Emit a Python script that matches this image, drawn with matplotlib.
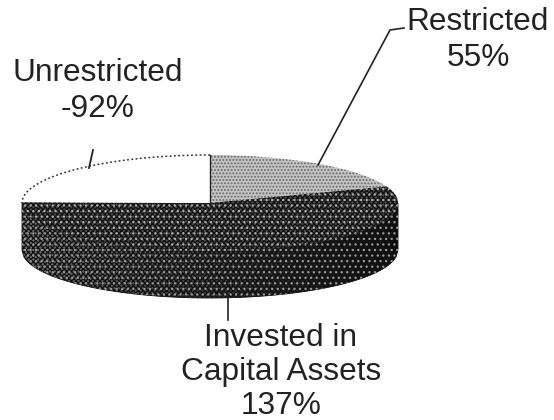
import numpy as np
import matplotlib
matplotlib.use('Agg')
import matplotlib.pyplot as plt
from matplotlib.patches import Polygon

plt.rcParams['font.family'] = ['Liberation Sans', 'DejaVu Sans']
plt.rcParams['hatch.linewidth'] = 0.9

# Data
labels = ['Restricted\n55%', 'Invested in\nCapital Assets\n137%', 'Unrestricted\n-92%']
# slice sizes as drawn in the picture (degrees of the ellipse)
slice_degrees = [70, 201, 89]

W, H = 554, 420
cx, cy, rx, ry, depth = 210, 203, 188, 48, 47


def fx(x):
    return x / W


def fy(y):
    return 1 - y / H


fig = plt.figure(figsize=(W / 100, H / 100), dpi=100, facecolor='white')
ax = fig.add_axes([0, 0, 1, 1])

# side wall, lighter on the left and almost black to the right
xs = np.linspace(-1, 1, 200)
front = -np.sqrt(1 - xs ** 2)
d = depth / ry
wall = np.column_stack([np.r_[xs, xs[::-1]], np.r_[front, (front - d)[::-1]]])
grad = np.linspace(0.42, 0.05, 256).reshape(1, -1)
img = ax.imshow(grad, extent=(-1, 1, -1 - d, 0), cmap='gray', vmin=0, vmax=1,
                aspect='auto', zorder=1)
clip = Polygon(wall, closed=True, transform=ax.transData, fill=False, edgecolor='none')
ax.add_patch(clip)
img.set_clip_path(clip)
ax.add_patch(Polygon(wall, closed=True, facecolor='none', edgecolor='#111111',
                     hatch='xxxxxxx', lw=0.6, zorder=2))
ax.add_patch(Polygon(wall, closed=True, facecolor='none', edgecolor='#9a9a9a',
                     hatch='...', lw=0, zorder=2))

# top face
wedges, _ = ax.pie(slice_degrees, startangle=90, counterclock=False, radius=1, center=(0, 0),
                   colors=['#c4c4c4', '#4a4a4a', 'white'])
for w in wedges:
    w.set_zorder(3)
    w.set_linewidth(0)
wedges[0].set_hatch('.....')
wedges[0].set_edgecolor('#666666')
wedges[1].set_hatch('xxxxxxx')
wedges[1].set_edgecolor('#111111')

# white speckle over the dark slice
speckle, _ = ax.pie(slice_degrees, startangle=90, counterclock=False, radius=1, center=(0, 0),
                    colors=['none', 'none', 'none'])
for w in speckle:
    w.set_zorder(4)
    w.set_linewidth(0)
speckle[1].set_hatch('...')
speckle[1].set_edgecolor('#b0b0b0')

# dotted rim of the white slice, plus the black divider at 12 o'clock
t = np.radians(np.linspace(270, 360, 60))
ax.plot(-np.abs(np.cos(t)), np.abs(np.sin(t)), ls=(0, (1.2, 1.6)), color='#333333', lw=1.1, zorder=5)
ax.plot([0, 0], [0, 1], color='#222222', lw=1, zorder=5)

ax.set_aspect('auto')
ax.set_xlim(-cx / rx, (W - cx) / rx)
ax.set_ylim(-(H - cy) / ry, cy / ry)
ax.axis('off')

# leader lines
ax.add_artist(plt.Line2D([fx(318), fx(390), fx(404)], [fy(165), fy(30), fy(28)], color='#222222',
                         lw=1.2, transform=fig.transFigure, zorder=6))
ax.add_artist(plt.Line2D([fx(89), fx(93)], [fy(168), fy(150)], color='#222222', lw=1.3,
                         transform=fig.transFigure, zorder=6))
ax.add_artist(plt.Line2D([fx(228), fx(228)], [fy(297), fy(320)], color='#222222', lw=1.2,
                         transform=fig.transFigure, zorder=6))

# labels
label_pos = [(478, 40), (281, 372), (98, 91)]
label_spacing = [1.25, 1.16, 1.25]
for txt, (x, y), sp in zip(labels, label_pos, label_spacing):
    fig.text(fx(x), fy(y), txt, ha='center', va='center', fontsize=22.8, color='#222222',
             linespacing=sp)

fig.savefig('out.png', dpi=100)
